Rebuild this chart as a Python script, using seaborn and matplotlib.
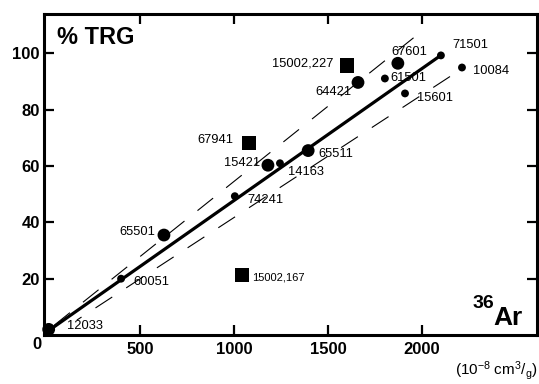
import matplotlib
matplotlib.use("Agg")
import matplotlib.pyplot as plt
import seaborn as sns
import pandas as pd

# ---- data ----
sample_ids = ["12033", "60051", "65501", "74241", "15002,167", "67941", "15421",
              "14163", "65511", "15002,227", "64421", "67601", "61501", "71501",
              "10084", "15601"]
ar36 = [15, 400, 628, 1005, 1043, 1080, 1181, 1245, 1395, 1601, 1660, 1872,
        1803, 2101, 2213, 1910]
trg_pct = [2.0, 20.0, 35.5, 49.3, 21.3, 68.1, 60.3, 61.0, 65.5, 95.7, 89.7,
           96.5, 91.1, 99.3, 95.0, 85.8]
kind = ["big", "small", "big", "small", "square", "square", "big", "small",
        "big", "square", "big", "big", "small", "small", "small", "small"]

fit_x = [20, 2100]
fit_y = [1.8, 99.3]
upper_x = [45, 2005]
upper_y = [3.5, 108.2]
lower_x = [165, 2202]
lower_y = [5.3, 94.1]

x_ticks = [500, 1000, 1500, 2000]
y_ticks = [20, 40, 60, 80, 100]

# ---- label layout (pixel offsets, alignment, font size) ----
label_layout = {
    "12033": (18, 3, "left", 9.3),
    "60051": (12, -3, "left", 9.3),
    "65501": (-9, 3, "right", 9.3),
    "74241": (13, -4, "left", 9.3),
    "15002,167": (10, -2, "left", 8),
    "67941": (-16, 3.5, "right", 9.3),
    "15421": (-8, 2.5, "right", 9.3),
    "14163": (8, -9, "left", 9.3),
    "65511": (10, -3.5, "left", 9.3),
    "15002,227": (-14, 2, "right", 9.3),
    "64421": (-6, -10, "right", 9.3),
    "67601": (-6, 11, "left", 9.3),
    "61501": (5, 0, "left", 9.3),
    "71501": (11, 10, "left", 9.3),
    "10084": (11, -3, "left", 9.3),
    "15601": (12, -4.5, "left", 9.3),
}

sns.set_style("white")
plt.rcParams["font.family"] = ["Liberation Sans", "DejaVu Sans"]
plt.rcParams["text.color"] = "black"
plt.rcParams["axes.labelcolor"] = "black"
plt.rcParams["xtick.color"] = "black"
plt.rcParams["ytick.color"] = "black"
plt.rcParams["mathtext.fontset"] = "custom"
plt.rcParams["mathtext.rm"] = "Liberation Sans"
plt.rcParams["mathtext.it"] = "Liberation Sans:italic"
plt.rcParams["mathtext.bf"] = "Liberation Sans:bold"

df = pd.DataFrame({"id": sample_ids, "x": ar36, "y": trg_pct, "kind": kind})

fig = plt.figure(figsize=(5.39, 3.84), dpi=100)
ax = fig.add_axes([0.0816, 0.1276, 0.9147, 0.8359])

# lines
sns.lineplot(x=fit_x, y=fit_y, ax=ax, color="black", linewidth=2.3,
             solid_capstyle="butt")
sns.lineplot(x=upper_x, y=upper_y, ax=ax, color="black", linewidth=0.8,
             linestyle=(0, (18, 15)))
sns.lineplot(x=lower_x, y=lower_y, ax=ax, color="black", linewidth=0.8,
             linestyle=(13, (18, 15)))

# points
sns.scatterplot(data=df, x="x", y="y", style="kind", size="kind",
                markers={"big": "o", "small": "o", "square": "s"},
                sizes={"big": 85, "small": 32, "square": 105},
                color="black", edgecolor="black", linewidth=0,
                legend=False, ax=ax, clip_on=False, zorder=5)

for sid, xv, yv in zip(sample_ids, ar36, trg_pct):
    dx, dy, ha, fs = label_layout[sid]
    ax.annotate(sid, (xv, yv), xytext=(dx, dy), textcoords="offset pixels",
                ha=ha, va="center", fontsize=fs, color="black")

ax.set_xlim(-10, 2612)
ax.set_ylim(0, 114)
ax.set_xticks(x_ticks)
ax.set_xticklabels([str(v) for v in x_ticks])
ax.set_yticks(y_ticks)
ax.set_yticklabels([str(v) for v in y_ticks])
ax.set_xlabel("")
ax.set_ylabel("")

for sp in ax.spines.values():
    sp.set_visible(True)
    sp.set_linewidth(2.2)
    sp.set_color("black")

ax.tick_params(axis="x", which="major", direction="in", length=7.5, width=1.6,
               top=True, bottom=True, pad=5, labelsize=12, colors="black")
ax.tick_params(axis="y", which="major", direction="in", length=7.5, width=1.6,
               left=True, right=True, pad=3, labelsize=12, colors="black")
for lab in ax.get_xticklabels() + ax.get_yticklabels():
    lab.set_fontweight("bold")

ax.text(-0.014, -0.031, "0", transform=ax.transAxes, ha="center", va="center",
        fontsize=12, fontweight="bold", color="black")
ax.text(0.026, 0.927, "% TRG", transform=ax.transAxes, ha="left", va="center",
        fontsize=17, fontweight="bold", color="black")
ax.text(0.970, 0.031, "Ar", transform=ax.transAxes, ha="right", va="baseline",
        fontsize=19, fontweight="bold", color="black")
ax.text(0.914, 0.084, "36", transform=ax.transAxes, ha="right", va="baseline",
        fontsize=14, fontweight="bold", color="black")
fig.text(0.997, 0.005, r"$\mathregular{(10^{-8}\ cm^{3}/_{g})}$", ha="right",
         va="bottom", fontsize=11, color="black")

fig.savefig("out.png", dpi=100)
